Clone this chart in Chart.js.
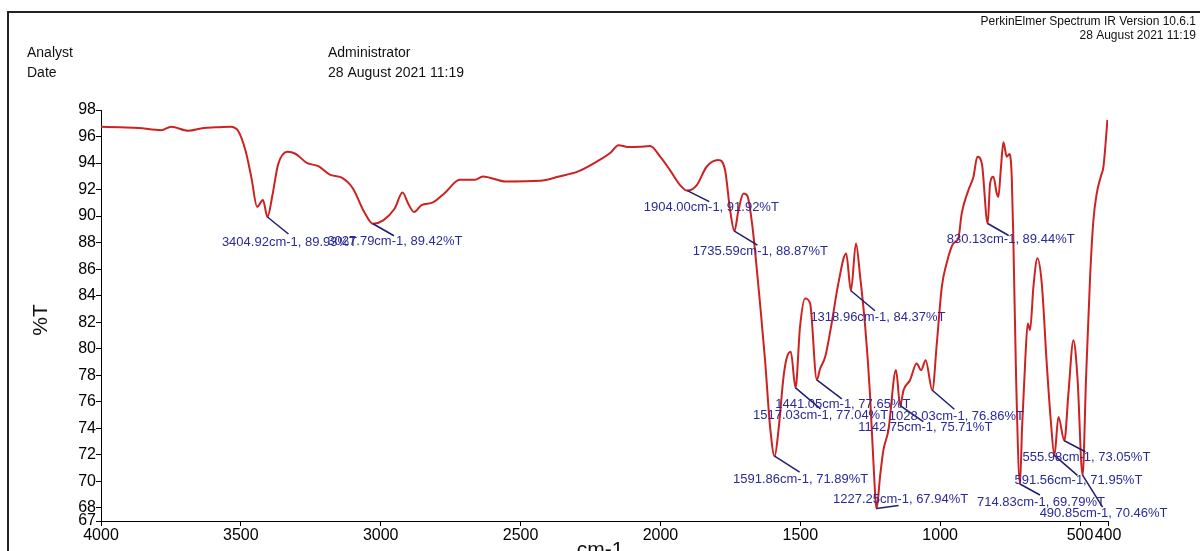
<!DOCTYPE html>
<html>
<head>
<meta charset="utf-8">
<title>IR spectrum</title>
<script src="https://cdn.jsdelivr.net/npm/chart.js@4.4.1/dist/chart.umd.min.js"></script>
<style>
  body { margin: 0; background: #fff; }
  canvas { display: block; }
</style>
</head>
<body>
<canvas id="irSpectrum" width="1200" height="551"></canvas>
<script>
// spectrum (cm-1 / %T)
var wavenumbers = [
  4000, 3934, 3866, 3784, 3749, 3688, 3633, 3592, 3537, 3510, 3483, 3462, 3442, 3421, 3404.92,
  3387, 3367, 3333, 3305, 3264, 3223, 3182, 3141, 3100, 3059, 3027.79, 2991, 2950, 2922, 2902,
  2881, 2854, 2813, 2772, 2717, 2663, 2635, 2553, 2430, 2362, 2294, 2225, 2180, 2150, 2116,
  2073, 2037, 2001, 1966, 1930, 1904, 1870, 1835, 1793, 1769, 1751, 1735.59, 1721, 1703, 1689,
  1674, 1662, 1644, 1626, 1608, 1591.86, 1578, 1560, 1549, 1534, 1517.03, 1501, 1483, 1465, 1441.05,
  1429, 1411, 1388, 1364, 1336, 1318.96, 1301, 1286, 1268, 1251, 1239, 1227.25, 1215, 1203, 1185,
  1158, 1142.75, 1131, 1108, 1084, 1068, 1052, 1028.03, 1012, 994, 977, 953, 935, 923, 899,
  881, 867, 851, 830.13, 821.5, 809.6, 797.7, 791.8, 783.4, 773.9, 762, 752.4, 744.1, 738.1, 728.6,
  714.83, 707.1, 696.4, 686.9, 678.5, 666.6, 652.3, 636.8, 619, 604.6, 591.56, 577.2, 555.98, 541.5, 523.6,
  509.3, 490.85, 478.3, 464, 452.1, 440.2, 425.9, 416.3, 402
];
var transmittance = [
  96.74, 96.69, 96.64, 96.48, 96.74, 96.43, 96.64, 96.69, 96.74, 96.43, 94.9, 92.86, 90.7, 91.21, 89.93,
  91.59, 93.88, 94.85, 94.7, 94.01, 93.76, 93.12, 92.91, 92.1, 90.31, 89.42, 89.68, 90.57, 91.77, 90.95,
  90.31, 90.82, 91.03, 91.72, 92.74, 92.74, 92.99, 92.61, 92.66, 92.99, 93.37, 94.14, 94.75, 95.35, 95.21,
  95.23, 95.28, 94.48, 93.47, 92.34, 91.92, 92.34, 93.72, 94.23, 93.47, 90.45, 88.87, 90.45, 91.71, 91.51,
  89.7, 87.43, 83.41, 79.13, 74.1, 71.89, 73.85, 77.87, 79.26, 79.76, 77.04, 81.65, 83.79, 83.41, 77.65,
  78.5, 79.38, 81.9, 84.92, 87.18, 84.37, 87.94, 85.42, 81.65, 76.62, 71.6, 67.94, 70.33, 72.34, 73.85,
  78.38, 75.71, 76.87, 77.62, 78.88, 78.38, 79.13, 76.86, 80.39, 84.67, 86.43, 87.94, 88.31, 90.2, 91.96,
  92.97, 94.48, 93.97, 89.44, 92.47, 92.97, 91.71, 91.46, 93.47, 95.56, 94.48, 94.68, 92.97, 87.94, 77.87,
  69.79, 74.1, 78.88, 81.9, 81.4, 84.67, 86.81, 84.92, 78.88, 74.6, 71.95, 74.85, 73.05, 76.62, 80.64,
  77.87, 70.46, 77.87, 85.42, 89.7, 91.71, 92.97, 93.72, 97.25
];

// labelled peaks
var peakWavenumbers = [3404.92, 3027.79, 1904.00, 1735.59, 1591.86, 1517.03, 1441.05, 1318.96,
  1227.25, 1142.75, 1028.03, 830.13, 714.83, 591.56, 555.98, 490.85];
var peakValues = [89.93, 89.42, 91.92, 88.87, 71.89, 77.04, 77.65, 84.37,
  67.94, 75.71, 76.86, 89.44, 69.79, 71.95, 73.05, 70.46];

var xTickValues = [4000, 3500, 3000, 2500, 2000, 1500, 1000, 500, 400];
var yTickValues = [67, 68, 70, 72, 74, 76, 78, 80, 82, 84, 86, 88, 90, 92, 94, 96, 98];

// pixel offsets of leader line end / label centre from each peak
var leaderEnds = [[21,17],[21,12],[22,11],[23,14],[25,16],[25,21],[25,19],[24,20],
  [22,-3],[23,16],[22,19],[21,12],[20,11],[23,20],[21,11],[20,32]];
var labelCentres = [[22,25],[22,18],[24,17],[26,20],[26,23],[25,28],[26,25],[27,27],
  [24,-9],[25,22],[24,26],[23,16],[21,18],[24,25],[22,17],[21,38]];

var FONT = '"Liberation Sans", Arial, sans-serif';

var points = wavenumbers.map(function(w, i) {
  return { x: w, y: transmittance[i] };
});

var pageDecor = {
  id: 'pageDecor',
  afterDraw: function(chart) {
    var ctx = chart.ctx;
    ctx.save();
    // frame
    ctx.strokeStyle = '#222';
    ctx.lineWidth = 2;
    ctx.beginPath();
    ctx.moveTo(1200, 12);
    ctx.lineTo(8, 12);
    ctx.lineTo(8, 551);
    ctx.stroke();

    ctx.fillStyle = '#111';
    ctx.textBaseline = 'middle';
    ctx.font = '12px ' + FONT;
    ctx.textAlign = 'right';
    ctx.fillText('PerkinElmer Spectrum IR Version 10.6.1', 1196, 22);
    ctx.fillText('28 August 2021 11:19', 1196, 36);

    ctx.font = '14px ' + FONT;
    ctx.textAlign = 'left';
    ctx.fillText('Analyst', 27, 53);
    ctx.fillText('Date', 27, 73);
    ctx.fillText('Administrator', 328, 53);
    ctx.fillText('28 August 2021 11:19', 328, 73);

    // axis titles
    ctx.font = '21px ' + FONT;
    ctx.textAlign = 'center';
    ctx.fillText('cm-1', 600, 550);
    ctx.translate(41, 320);
    ctx.rotate(-Math.PI / 2);
    ctx.fillText('%T', 0, 0);
    ctx.restore();
  }
};

var peakLabels = {
  id: 'peakLabels',
  afterDatasetsDraw: function(chart) {
    var ctx = chart.ctx;
    var xs = chart.scales.x, ys = chart.scales.y;
    ctx.save();
    ctx.font = '13px ' + FONT;
    ctx.textAlign = 'center';
    ctx.textBaseline = 'middle';
    for (var i = 0; i < peakWavenumbers.length; i++) {
      var px = xs.getPixelForValue(peakWavenumbers[i]);
      var py = ys.getPixelForValue(peakValues[i]);
      ctx.strokeStyle = '#1e1e6e';
      ctx.lineWidth = 1.5;
      ctx.beginPath();
      ctx.moveTo(px, py);
      ctx.lineTo(px + leaderEnds[i][0], py + leaderEnds[i][1]);
      ctx.stroke();
      ctx.fillStyle = '#2a2a9a';
      ctx.fillText(peakWavenumbers[i].toFixed(2) + 'cm-1, ' + peakValues[i].toFixed(2) + '%T',
        px + labelCentres[i][0], py + labelCentres[i][1]);
    }
    ctx.restore();
  }
};

var ctx = document.getElementById('irSpectrum');

var irChart = new Chart(ctx, {
  type: 'line',
  data: {
    datasets: [{
      data: points,
      borderColor: '#cc2222',
      borderWidth: 2,
      pointRadius: 0,
      fill: false,
      cubicInterpolationMode: 'monotone'
    }]
  },
  options: {
    responsive: false,
    animation: false,
    devicePixelRatio: 1,
    layout: { padding: { left: 0, top: 110, right: 92, bottom: 0 } },
    plugins: {
      legend: { display: false },
      tooltip: { enabled: false }
    },
    scales: {
      x: {
        type: 'linear',
        reverse: true,
        min: 400,
        max: 4000,
        afterBuildTicks: function(scale) {
          scale.ticks = xTickValues.map(function(v) { return { value: v }; });
        },
        afterFit: function(scale) {
          scale.height = 30;
          scale.paddingLeft = 0;
          scale.paddingRight = 0;
        },
        grid: { drawOnChartArea: false, drawTicks: true, tickLength: 5, color: '#000' },
        border: { display: true, color: '#000', width: 1 },
        ticks: {
          autoSkip: false,
          maxRotation: 0,
          padding: 0,
          color: '#000',
          font: { family: FONT, size: 16 },
          callback: function(v) { return String(v); }
        }
      },
      y: {
        min: 67,
        max: 98,
        afterBuildTicks: function(scale) {
          scale.ticks = yTickValues.map(function(v) { return { value: v }; });
        },
        afterFit: function(scale) {
          scale.width = 101;
        },
        grid: { drawOnChartArea: false, drawTicks: true, tickLength: 5, color: '#000' },
        border: { display: true, color: '#000', width: 1 },
        ticks: {
          autoSkip: false,
          padding: 0,
          color: '#000',
          font: { family: FONT, size: 16 },
          callback: function(v) { return String(v); }
        }
      }
    }
  },
  plugins: [pageDecor, peakLabels]
});
</script>
</body>
</html>
